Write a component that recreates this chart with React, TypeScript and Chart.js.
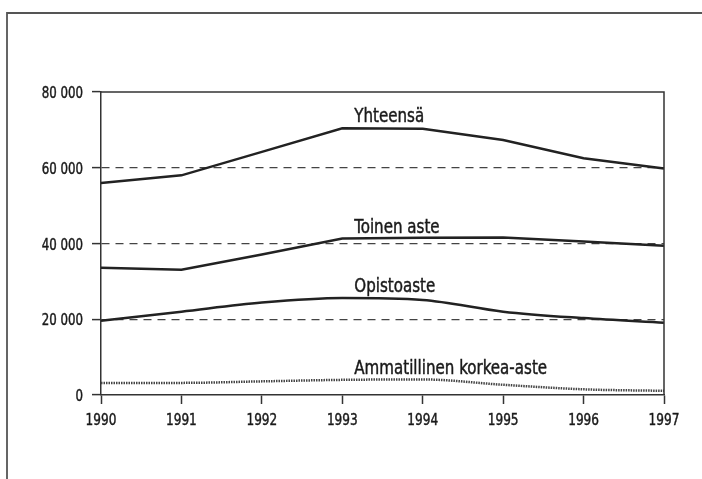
import React, { useEffect, useRef } from "react";
import { Chart, registerables } from "chart.js";

Chart.register(...registerables);

const years = ["1990", "1991", "1992", "1993", "1994", "1995", "1996", "1997"];
const seriesNames = ["Yhteensä", "Toinen aste", "Opistoaste", "Ammatillinen korkea-aste"];
const yhteensa = [56000, 58000, 64200, 70400, 70300, 67300, 62500, 59800];
const toinenAste = [33600, 33100, 37100, 41300, 41500, 41600, 40500, 39400];
const opistoaste = [19600, 22000, 24400, 25600, 25100, 22000, 20300, 19100];
const ammatillinen = [3200, 3200, 3600, 4000, 4100, 2700, 1500, 1100];
const yTickValues = [0, 20000, 40000, 60000, 80000];
const yTickLabels = ["0", "20 000", "40 000", "60 000", "80 000"];

const FONT = "'DejaVu Sans Condensed', 'DejaVu Sans', sans-serif";

function narrowText(ctx: any, text: string, x: number, y: number, align: string, sx: number) {
  ctx.save();
  ctx.translate(x, y);
  ctx.scale(sx, 1);
  ctx.textAlign = align;
  ctx.textBaseline = "alphabetic";
  ctx.lineWidth = 0.45;
  ctx.strokeStyle = ctx.fillStyle;
  ctx.fillText(text, 0, 0);
  ctx.strokeText(text, 0, 0);
  ctx.restore();
}

export default function App() {
  const ref = useRef<HTMLCanvasElement | null>(null);

  useEffect(() => {
    if (!ref.current) return;
    const framePlugin = {
      id: "frame",
      beforeDraw(chart: any) {
        const ctx = chart.ctx;
        ctx.save();
        ctx.strokeStyle = "#555";
        ctx.lineWidth = 1.8;
        ctx.beginPath();
        ctx.moveTo(7, 600);
        ctx.lineTo(7, 13);
        ctx.lineTo(800, 13);
        ctx.stroke();
        ctx.restore();
      },
      afterDraw(chart: any) {
        const ctx = chart.ctx;
        const a = chart.chartArea;
        const xs = chart.scales.x;
        const ys = chart.scales.y;
        ctx.save();
        ctx.strokeStyle = "#333";
        ctx.lineWidth = 1.5;
        ctx.beginPath();
        ctx.moveTo(a.left, a.top);
        ctx.lineTo(a.right, a.top);
        ctx.lineTo(a.right, a.bottom);
        ctx.stroke();

        ctx.fillStyle = "#1a1a1a";
        ctx.font = `16px ${FONT}`;
        years.forEach((lab, i) => {
          narrowText(ctx, lab, xs.getPixelForTick(i), a.bottom + 30, "center", 0.84);
        });
        yTickValues.forEach((v, i) => {
          narrowText(ctx, yTickLabels[i], a.left - 18, ys.getPixelForValue(v) + 6, "right", 0.82);
        });
        ctx.font = `19.5px ${FONT}`;
        chart.data.datasets.forEach((ds: any) => {
          const x = xs.getPixelForValue(3) + 12;
          const y = ys.getPixelForValue(ds.data[3]) - 6;
          narrowText(ctx, ds.label, x, y, "left", 0.86);
        });
        ctx.restore();
      },
    };

    const chart = new Chart(ref.current, {
      type: "line",
      data: {
        labels: years,
        datasets: [
          { label: seriesNames[0], data: yhteensa, borderColor: "#222", borderWidth: 2.5, pointRadius: 0, tension: 0 },
          { label: seriesNames[1], data: toinenAste, borderColor: "#222", borderWidth: 2.5, pointRadius: 0, tension: 0 },
          { label: seriesNames[2], data: opistoaste, borderColor: "#222", borderWidth: 2.5, pointRadius: 0, cubicInterpolationMode: "monotone" },
          { label: seriesNames[3], data: ammatillinen, borderColor: "#444", borderWidth: 2.5, borderDash: [1.5, 1], pointRadius: 0, cubicInterpolationMode: "monotone" },
        ],
      },
      options: {
        responsive: false,
        animation: false,
        layout: { padding: { left: 0, top: 92, right: 38, bottom: 0 } },
        plugins: { legend: { display: false }, tooltip: { enabled: false }, title: { display: false } },
        scales: {
          x: {
            type: "category",
            offset: false,
            grid: { display: true, drawOnChartArea: false, drawTicks: true, tickLength: 9, tickColor: "#333", tickWidth: 1.5 },
            border: { display: true, color: "#333", width: 1.5 },
            ticks: { display: false, autoSkip: false },
            afterFit(scale: any) { scale.height = 84; },
          },
          y: {
            min: 0,
            max: 80000,
            afterBuildTicks(scale: any) { scale.ticks = yTickValues.map((v) => ({ value: v })); },
            grid: {
              display: true,
              drawTicks: true,
              tickLength: 9,
              tickColor: "#333",
              tickWidth: 1.5,
              tickBorderDash: [],
              tickBorderDashOffset: 0,
              lineWidth: 1.2,
              color: (c: any) => (c.tick && (c.tick.value === 0 || c.tick.value === 80000) ? "rgba(0,0,0,0)" : "#444"),
            },
            border: { display: true, color: "#333", width: 1.5, dash: [8, 6] },
            ticks: { display: false },
            afterFit(scale: any) { scale.width = 101; },
          },
        },
      },
      plugins: [framePlugin],
    } as any);
    return () => chart.destroy();
  }, []);

  return (
    <div style={{ position: "fixed", left: 0, top: 0, width: 702, height: 479, background: "#fff" }}>
      <canvas ref={ref} width={702} height={479} style={{ display: "block" }} />
    </div>
  );
}
